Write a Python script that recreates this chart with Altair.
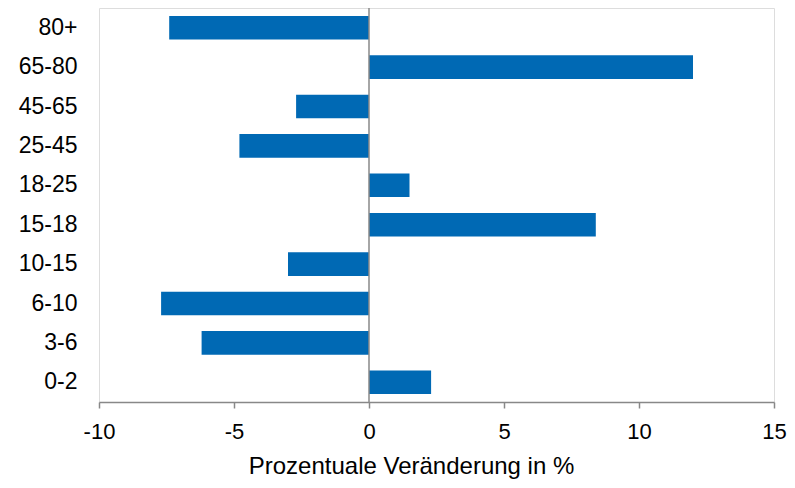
import altair as alt
import pandas as pd

categories = ["80+", "65-80", "45-65", "25-45", "18-25", "15-18", "10-15", "6-10", "3-6", "0-2"]
values = [-7.4, 12.0, -2.7, -4.8, 1.5, 8.4, -3.0, -7.7, -6.2, 2.3]
tick_values = [-10, -5, 0, 5, 10, 15]

df = pd.DataFrame({"Altersgruppe": categories, "Wert": values})

FONT = "Liberation Sans"
GRAY = "#888888"

bars = alt.Chart(df).mark_bar(color="#0069b4").encode(
    x=alt.X(
        "Wert:Q",
        scale=alt.Scale(domain=[-10, 15], nice=False, zero=False),
        axis=alt.Axis(
            values=tick_values,
            labelExpr="toString(datum.value)",
            labelFlush=False,
            title="Prozentuale Veränderung in %",
            titleX=312,
            grid=False,
            domainColor=GRAY,
            domainWidth=1.5,
            tickColor=GRAY,
            tickWidth=1.5,
            tickSize=6,
            labelFontSize=22,
            labelFont=FONT,
            labelColor="#000000",
            labelPadding=13,
            titleFontSize=24,
            titleFont=FONT,
            titleFontWeight="normal",
            titleColor="#000000",
            titlePadding=12,
        ),
    ),
    y=alt.Y(
        "Altersgruppe:N",
        sort=categories,
        scale=alt.Scale(paddingInner=0.4, paddingOuter=0.2),
        axis=alt.Axis(
            title=None,
            domain=False,
            ticks=False,
            tickSize=0,
            grid=False,
            labelFontSize=23,
            labelFont=FONT,
            labelColor="#000000",
            labelPadding=22,
        ),
    ),
)

zero_rule = alt.Chart(pd.DataFrame({"z": [0]})).mark_rule(color=GRAY, strokeWidth=1.5).encode(
    x=alt.X("z:Q")
)

chart = (
    alt.layer(bars, zero_rule)
    .properties(
        width=675,
        height=394,
        autosize=alt.AutoSizeParams(type="none"),
        padding={"left": 91, "top": 0, "right": 13, "bottom": 78},
    )
    .configure_view(stroke=None)
    .configure(background="#ffffff")
)

chart.save("out.html", embed_options={"renderer": "svg", "actions": False})
